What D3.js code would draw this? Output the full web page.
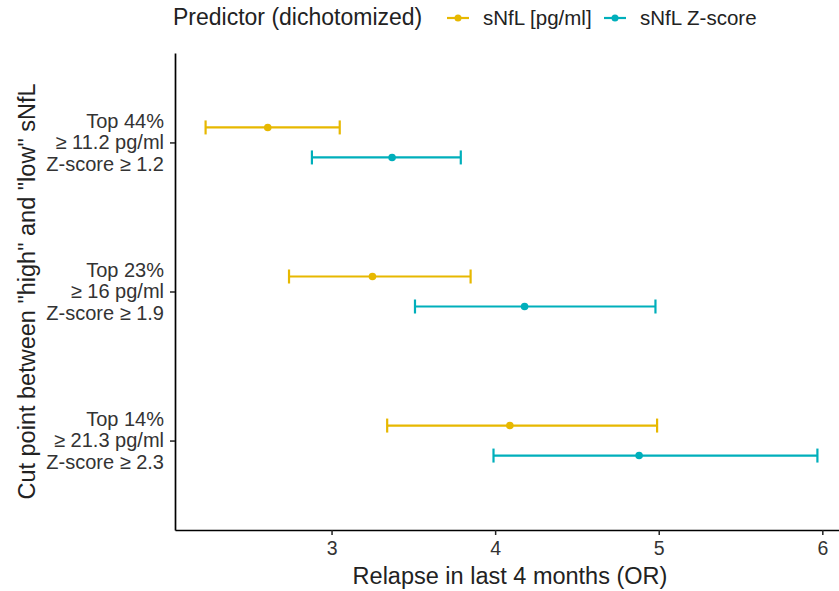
<!DOCTYPE html>
<html>
<head>
<meta charset="utf-8">
<script src="https://cdn.jsdelivr.net/npm/d3@7"></script>
<style>
  html, body { margin: 0; padding: 0; background: #fff; }
  svg { display: block; font-family: "Liberation Sans", Arial, sans-serif; }
</style>
</head>
<body>
<svg id="chart" width="839" height="591"></svg>
<script>
// Cut-point groups (top to bottom) and their label lines
const groups = ["Top 44%", "Top 23%", "Top 14%"];
const groupLabels = [
  ["Top 44%", "≥ 11.2 pg/ml", "Z-score ≥ 1.2"],
  ["Top 23%", "≥ 16 pg/ml", "Z-score ≥ 1.9"],
  ["Top 14%", "≥ 21.3 pg/ml", "Z-score ≥ 2.3"]
];

// Predictors and colours
const seriesNames = ["sNfL [pg/ml]", "sNfL Z-score"];
const seriesColors = ["#E7B800", "#00AFBB"];

// Odds ratios with 95% CI, per group
const orPg    = [2.61, 3.25, 4.09];
const loPg    = [2.23, 2.74, 3.34];
const hiPg    = [3.05, 3.85, 4.99];
const orZ     = [3.37, 4.18, 4.88];
const loZ     = [2.88, 3.51, 3.99];
const hiZ     = [3.79, 4.98, 5.97];

const xTicks = [3, 4, 5, 6];

const rows = [];
groups.forEach((g, i) => {
  rows.push({ group: g, series: 0, or: orPg[i], lo: loPg[i], hi: hiPg[i] });
  rows.push({ group: g, series: 1, or: orZ[i], lo: loZ[i], hi: hiZ[i] });
});

const textColor = "#222";
const svg = d3.select("#chart");
const panel = { left: 175, right: 848, top: 53, bottom: 530 };

// x: continuous with 5% expansion
const xmin = d3.min(rows, d => d.lo), xmax = d3.max(rows, d => d.hi);
const pad = (xmax - xmin) * 0.05;
const x = d3.scaleLinear().domain([xmin - pad, xmax + pad]).range([panel.left, panel.right]);

// y: discrete, 0.6 expansion each side
const y = d3.scalePoint().domain(groups).range([panel.top, panel.bottom]).padding(0.6);
const dodge = 15;

// Axes
const xAxis = svg.append("g")
  .attr("transform", `translate(0,${panel.bottom})`)
  .call(d3.axisBottom(x).tickValues(xTicks).tickSize(5).tickSizeOuter(0).tickPadding(6)
    .tickFormat(d3.format("d")));
xAxis.select(".domain").attr("stroke", "#000").attr("stroke-width", 1.7);
xAxis.selectAll(".tick line").attr("stroke", "#222").attr("stroke-width", 1.5);
xAxis.selectAll(".tick text").attr("fill", "#333").attr("font-size", 19.5)
  .attr("font-family", "Liberation Sans, Arial, sans-serif");

const yAxis = svg.append("g")
  .attr("transform", `translate(${panel.left},0)`)
  .call(d3.axisLeft(y).tickSize(5).tickSizeOuter(0).tickFormat(""));
yAxis.select(".domain").attr("stroke", "#000").attr("stroke-width", 1.7);
yAxis.selectAll(".tick line").attr("stroke", "#222").attr("stroke-width", 1.5);

// Multi-line group labels
groups.forEach((g, i) => {
  const t = svg.append("text")
    .attr("text-anchor", "end")
    .attr("fill", "#333")
    .attr("font-size", 20);
  groupLabels[i].forEach((line, j) => {
    t.append("tspan").attr("x", panel.left - 11).attr("y", y(g) + (j - 1) * 21.6 + 6.8).text(line);
  });
});

// Error bars and points
const marks = svg.append("g");
rows.forEach(r => {
  const cy = y(r.group) + (r.series === 0 ? -dodge : dodge);
  const c = seriesColors[r.series];
  const g = marks.append("g").attr("stroke", c).attr("stroke-width", 2.2);
  g.append("line").attr("x1", x(r.lo)).attr("x2", x(r.hi)).attr("y1", cy).attr("y2", cy);
  g.append("line").attr("x1", x(r.lo)).attr("x2", x(r.lo)).attr("y1", cy - 7).attr("y2", cy + 7);
  g.append("line").attr("x1", x(r.hi)).attr("x2", x(r.hi)).attr("y1", cy - 7).attr("y2", cy + 7);
  marks.append("circle").attr("cx", x(r.or)).attr("cy", cy).attr("r", 3.8).attr("fill", c);
});

// Axis titles
svg.append("text")
  .attr("x", 510).attr("y", 584)
  .attr("text-anchor", "middle").attr("font-size", 23.5).attr("fill", textColor)
  .text("Relapse in last 4 months (OR)");

svg.append("text")
  .attr("transform", `translate(35,${(panel.top + panel.bottom) / 2}) rotate(-90)`)
  .attr("text-anchor", "middle").attr("font-size", 23.5).attr("fill", textColor)
  .text('Cut point between "high" and "low" sNfL');

// Legend
const legend = svg.append("g");
legend.append("text").attr("x", 173).attr("y", 25).attr("font-size", 23).attr("fill", textColor)
  .text("Predictor (dichotomized)");
const keyX = [447, 604];
seriesNames.forEach((s, i) => {
  const k = legend.append("g");
  k.append("line").attr("x1", keyX[i]).attr("x2", keyX[i] + 22).attr("y1", 18).attr("y2", 18)
    .attr("stroke", seriesColors[i]).attr("stroke-width", 2.2);
  k.append("circle").attr("cx", keyX[i] + 11).attr("cy", 18).attr("r", 3.5).attr("fill", seriesColors[i]);
  k.append("text").attr("x", keyX[i] + 36).attr("y", 25).attr("font-size", 20.5).attr("fill", textColor).text(s);
});
</script>
</body>
</html>
